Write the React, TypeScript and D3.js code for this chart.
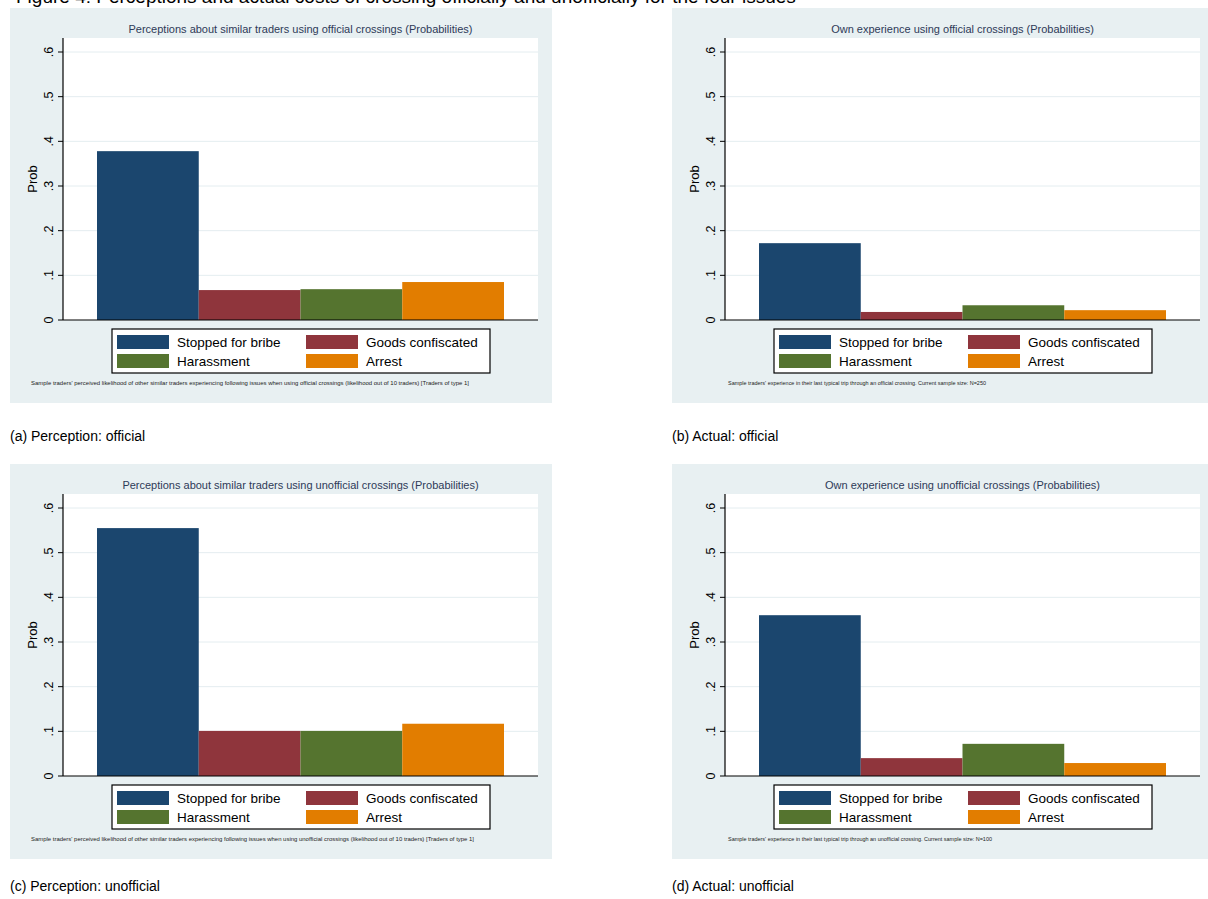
import React from "react";
import * as d3 from "d3";

// Issue categories shown as bars / legend entries
const categories = ["Stopped for bribe", "Goods confiscated", "Harassment", "Arrest"];
const barColors = ["#1B466E", "#8F353C", "#55742F", "#E27D00"];

// Probabilities per panel (same order as categories)
const perceptionOfficial = [0.378, 0.067, 0.069, 0.085];
const actualOfficial = [0.172, 0.018, 0.033, 0.022];
const perceptionUnofficial = [0.555, 0.101, 0.101, 0.117];
const actualUnofficial = [0.36, 0.04, 0.072, 0.029];

const yTicks = [0, 0.1, 0.2, 0.3, 0.4, 0.5, 0.6];
const yTickLabels = ["0", ".1", ".2", ".3", ".4", ".5", ".6"];

const panelTitles = [
  "Perceptions about similar traders using official crossings (Probabilities)",
  "Own experience using official crossings (Probabilities)",
  "Perceptions about similar traders using unofficial crossings (Probabilities)",
  "Own experience using unofficial crossings (Probabilities)",
];
const panelNotes = [
  "Sample traders' perceived likelihood of other similar traders experiencing following issues when using official crossings (likelihood out of 10 traders) [Traders of type 1]",
  "Sample traders' experience in their last typical trip through an official crossing. Current sample size: N=250",
  "Sample traders' perceived likelihood of other similar traders experiencing following issues when using unofficial crossings (likelihood out of 10 traders) [Traders of type 1]",
  "Sample traders' experience in their last typical trip through an unofficial crossing. Current sample size: N=100",
];
const panelCaptions = [
  "(a) Perception: official",
  "(b) Actual: official",
  "(c) Perception: unofficial",
  "(d) Actual: unofficial",
];
const panelValues = [perceptionOfficial, actualOfficial, perceptionUnofficial, actualUnofficial];

const FONT = "'Liberation Sans', Arial, Helvetica, sans-serif";

// panel geometry (local coordinates inside each grey graph region)
const W = 542;
const H = 395;
const plot = { left: 53, right: 528, top: 30, bottom: 312 };
const barRange: [number, number] = [87, 494];
const notePos = [
  { x: 21, len: 438 },
  { x: 56, len: 258 },
  { x: 21, len: 443 },
  { x: 56, len: 264 },
];
const origins = [
  { x: 10, y: 8 },
  { x: 672, y: 8 },
  { x: 10, y: 464 },
  { x: 672, y: 464 },
];
// caption baselines below each graph region
const captionOffsets = [433, 433, 427, 427];

function Panel({ idx }: { idx: number }) {
  const values = panelValues[idx];
  const x = d3.scaleBand<string>().domain(categories).range(barRange).padding(0);
  const y = d3.scaleLinear().domain([0, 0.6]).range([plot.bottom, 44]);
  const midY = (plot.top + plot.bottom) / 2;
  const legend = { x: 102, y: 321, w: 378, h: 44 };
  return (
    <g transform={`translate(${origins[idx].x},${origins[idx].y})`}>
      <rect x={0} y={0} width={W} height={H} fill="#E8F0F2" />
      <rect
        x={plot.left}
        y={plot.top}
        width={plot.right - plot.left}
        height={plot.bottom - plot.top}
        fill="#ffffff"
      />
      {yTicks.slice(1).map((t) => (
        <line
          key={t}
          x1={plot.left}
          x2={plot.right}
          y1={y(t)}
          y2={y(t)}
          stroke="#E4EDF0"
          strokeWidth={1}
        />
      ))}
      <text
        x={(plot.left + plot.right) / 2}
        y={25}
        textAnchor="middle"
        fontFamily={FONT}
        fontSize={11}
        fill="#2E3A58"
      >
        {panelTitles[idx]}
      </text>
      {categories.map((c, i) => (
        <rect
          key={c}
          x={x(c)!}
          y={y(values[i])}
          width={x.bandwidth()}
          height={y(0) - y(values[i])}
          fill={barColors[i]}
        />
      ))}
      {/* axes */}
      <line x1={plot.left} x2={plot.left} y1={plot.top} y2={plot.bottom} stroke="#000" strokeWidth={1.2} />
      <line x1={plot.left} x2={plot.right} y1={plot.bottom} y2={plot.bottom} stroke="#000" strokeWidth={1.2} />
      {yTicks.map((t, i) => (
        <g key={t}>
          <line x1={plot.left - 5} x2={plot.left} y1={y(t)} y2={y(t)} stroke="#000" strokeWidth={1} />
          <text
            transform={`translate(${plot.left - 10},${y(t)}) rotate(-90)`}
            textAnchor="middle"
            fontFamily={FONT}
            fontSize={12.5}
            fill="#000"
          >
            {yTickLabels[i]}
          </text>
        </g>
      ))}
      <text
        transform={`translate(${plot.left - 26},${midY}) rotate(-90)`}
        textAnchor="middle"
        fontFamily={FONT}
        fontSize={13}
        fill="#000"
      >
        Prob
      </text>
      {/* legend */}
      <rect x={legend.x} y={legend.y} width={legend.w} height={legend.h} fill="#fff" stroke="#000" strokeWidth={1.2} />
      {categories.map((c, i) => {
        const col = i % 2;
        const row = Math.floor(i / 2);
        const sx = legend.x + 5 + col * 189;
        const sy = legend.y + 6 + row * 19;
        return (
          <g key={c}>
            <rect x={sx} y={sy} width={52} height={14} fill={barColors[i]} />
            <text x={sx + 60} y={sy + 12} fontFamily={FONT} fontSize={13.5} fill="#000">
              {c}
            </text>
          </g>
        );
      })}
      <text
        x={notePos[idx].x}
        y={377}
        fontFamily={FONT}
        fontSize={5}
        textLength={notePos[idx].len}
        lengthAdjust="spacingAndGlyphs"
        fill="#222"
      >
        {panelNotes[idx]}
      </text>
      <text x={0} y={captionOffsets[idx]} fontFamily={FONT} fontSize={14} fill="#000">
        {panelCaptions[idx]}
      </text>
    </g>
  );
}

export default function App() {
  return (
    <svg
      width={1208}
      height={899}
      style={{ position: "absolute", left: 0, top: 0, background: "#fff" }}
    >
      <rect x={0} y={0} width={1208} height={899} fill="#fff" />
      <text x={16} y={3} fontFamily={FONT} fontSize={19} fill="#000">
        Figure 4: Perceptions and actual costs of crossing officially and unofficially for the four issues
      </text>
      {[0, 1, 2, 3].map((i) => (
        <Panel key={i} idx={i} />
      ))}
    </svg>
  );
}
